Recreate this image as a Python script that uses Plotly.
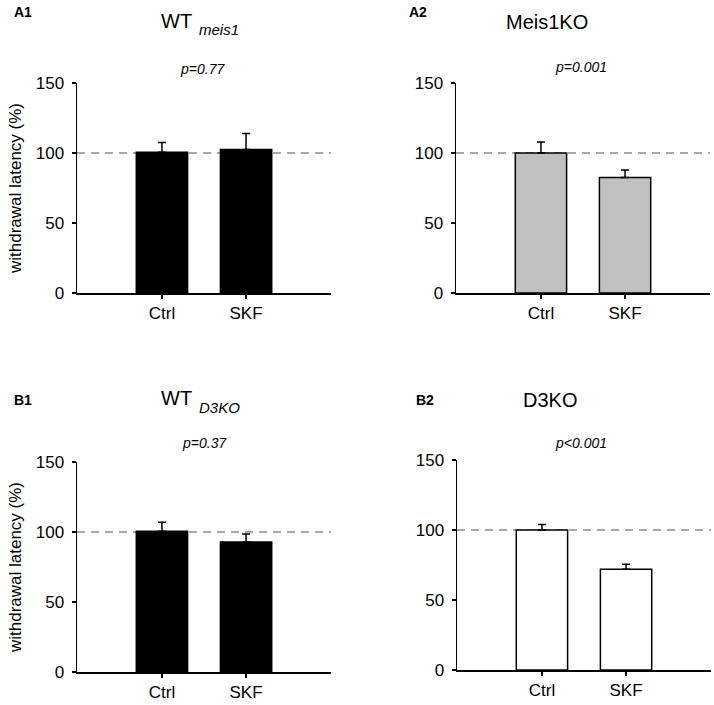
import plotly.graph_objects as go

W, H = 714, 705
FONT = "Liberation Sans, Arial, sans-serif"

categories = ["Ctrl", "SKF"]
y_ticks = [0, 50, 100, 150]

a1_values = [100.5, 102.5]
a1_err = [7.0, 11.5]
a2_values = [100.0, 82.5]
a2_err = [7.8, 5.3]
b1_values = [100.5, 92.8]
b1_err = [6.5, 5.8]
b2_values = [100.0, 72.0]
b2_err = [4.0, 3.5]

panel_labels = ["A1", "A2", "B1", "B2"]
titles = ["WT", "Meis1KO", "WT", "D3KO"]
title_subs = ["meis1", "", "D3KO", ""]
p_texts = ["p=0.77", "p=0.001", "p=0.37", "p<0.001"]
bar_colors = ["#000000", "#c0c0c0", "#000000", "#ffffff"]

panels = [
    dict(vals=a1_values, err=a1_err, px=(77, 331), py=(83, 293)),
    dict(vals=a2_values, err=a2_err, px=(456, 710), py=(83, 293)),
    dict(vals=b1_values, err=b1_err, px=(77, 331), py=(462, 672)),
    dict(vals=b2_values, err=b2_err, px=(457, 711), py=(460, 670)),
]

# label positions (pixels, centre of text)
label_pos = [(23, 12), (418, 12), (23, 400), (425, 400)]
title_pos = [(176, 21), (547, 22), (176, 398), (550, 400)]
sub_pos = [(197, 30), None, (197, 408), None]
p_pos = [(202, 69), (581, 67), (204, 443), (581, 443)]

fig = go.Figure()
shapes = []
annotations = []

for i, p in enumerate(panels):
    n = "" if i == 0 else str(i + 1)
    xa = "x" + n
    ya = "y" + n
    fig.add_trace(go.Bar(
        x=[0, 1], y=p["vals"], xaxis=xa, yaxis=ya,
        width=0.61,
        marker=dict(color=bar_colors[i], line=dict(color="black", width=1.5)),
        error_y=dict(type="data", symmetric=False, array=p["err"],
                     arrayminus=[0, 0], color="black", thickness=1.5, width=4),
        showlegend=False, hoverinfo="skip",
    ))
    xd = [p["px"][0] / W, p["px"][1] / W]
    yd = [1 - p["py"][1] / H, 1 - p["py"][0] / H]
    axis_common = dict(showline=True, linecolor="black", linewidth=1.5,
                       ticks="outside", tickcolor="black", tickwidth=1.5,
                       showgrid=False, zeroline=False, automargin=False,
                       tickfont=dict(family=FONT, size=17, color="black"))
    fig.layout["xaxis" + n] = dict(domain=xd, range=[-1.01, 2.01],
                                   tickvals=[0, 1], ticktext=categories,
                                   ticklen=4, anchor=ya, **axis_common)
    fig.layout["yaxis" + n] = dict(domain=yd, range=[0, 150],
                                   tickvals=y_ticks, ticklen=4, anchor=xa,
                                   ticklabelstandoff=4,
                                   **axis_common)
    if i % 2 == 0:
        fig.layout["yaxis" + n].title = dict(
            text="withdrawal latency (%)",
            font=dict(family=FONT, size=17, color="black"), standoff=10)
    shapes.append(dict(type="line", xref=xa + " domain", yref=ya,
                       x0=0, x1=1, y0=100, y1=100, layer="below",
                       line=dict(color="#8c8c8c", width=1.5, dash="8px,6px")))
    lx, ly = label_pos[i]
    annotations.append(dict(text="<b>" + panel_labels[i] + "</b>", x=lx / W, y=1 - ly / H,
                            xref="paper", yref="paper", showarrow=False,
                            xanchor="center", yanchor="middle",
                            font=dict(family=FONT, size=14, color="black")))
    tx, ty = title_pos[i]
    annotations.append(dict(text=titles[i], x=tx / W, y=1 - ty / H,
                            xref="paper", yref="paper", showarrow=False,
                            xanchor="center", yanchor="middle",
                            font=dict(family=FONT, size=20, color="black")))
    if sub_pos[i] is not None:
        sx, sy = sub_pos[i]
        annotations.append(dict(text="<i>" + title_subs[i] + "</i>", x=sx / W, y=1 - sy / H,
                                xref="paper", yref="paper", showarrow=False,
                                xanchor="left", yanchor="middle",
                                font=dict(family=FONT, size=15, color="black")))
    qx, qy = p_pos[i]
    annotations.append(dict(text="<i>" + p_texts[i].replace("<", "&lt;") + "</i>",
                            x=qx / W, y=1 - qy / H,
                            xref="paper", yref="paper", showarrow=False,
                            xanchor="center", yanchor="middle",
                            font=dict(family=FONT, size=14, color="black")))

fig.update_layout(width=W, height=H, margin=dict(l=0, r=0, t=0, b=0, autoexpand=False),
                  paper_bgcolor="white", plot_bgcolor="white",
                  shapes=shapes, annotations=annotations,
                  font=dict(family=FONT, color="black"))

fig.write_html("out.html", config={"displayModeBar": False, "staticPlot": True},
               post_script="document.body.style.margin='0px';document.body.style.overflow='hidden';")
